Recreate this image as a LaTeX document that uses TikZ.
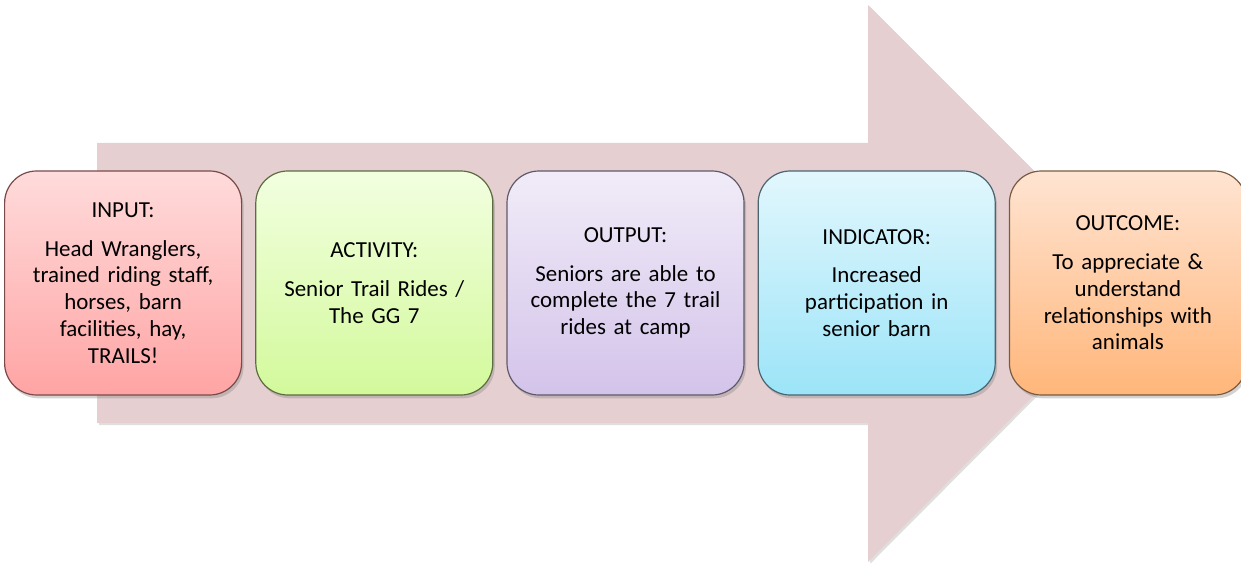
\documentclass[tikz,border=0pt]{standalone}
\usepackage{fontspec}
\setmainfont{Carlito}
\usepackage{tikz}
\usetikzlibrary{positioning, shadows}

\definecolor{arrowpink}{HTML}{E6CFD0}
\definecolor{inputtop}{HTML}{FFDBDB}
\definecolor{inputbot}{HTML}{FFA4A4}
\definecolor{inputline}{HTML}{7A4A4A}
\definecolor{activitytop}{HTML}{F2FFE0}
\definecolor{activitybot}{HTML}{D3F99B}
\definecolor{activityline}{HTML}{5D6B40}
\definecolor{outputtop}{HTML}{F1ECF8}
\definecolor{outputbot}{HTML}{D3C3EA}
\definecolor{outputline}{HTML}{5F5A6B}
\definecolor{indicatortop}{HTML}{E2F7FD}
\definecolor{indicatorbot}{HTML}{9CE4F8}
\definecolor{indicatorline}{HTML}{4A6470}
\definecolor{outcometop}{HTML}{FFE4D2}
\definecolor{outcomebot}{HTML}{FFB67A}
\definecolor{outcomeline}{HTML}{7A5A40}

\tikzset{
  stagebox/.style={rectangle, rounded corners=24pt, line width=0.9pt,
    minimum width=177.75pt, minimum height=168pt, align=center,
    text width=170pt, inner sep=0pt,
    font=\fontsize{17.2}{20.1}\selectfont,
    drop shadow={opacity=0.35, shadow xshift=1.5pt, shadow yshift=-2.5pt}},
  stagecolor/.style={top color=#1top, bottom color=#1bot, draw=#1line}
}

\begin{document}
\begin{tikzpicture}[x=0.75pt, y=-0.75pt, node distance=9.75pt]

  \useasboundingbox (0,0) rectangle (1241,563);

  %--------------------------
  % Big arrow behind
  %--------------------------
  \fill[arrowpink, drop shadow={opacity=0.25, shadow xshift=1.5pt, shadow yshift=-1.5pt}]
    (97,143) -- (868,143) -- (868,5) -- (1146,283) -- (868,562)
    -- (868,423) -- (97,423) -- cycle;

  %--------------------------
  % Stages
  %--------------------------
  \node[stagebox, stagecolor=input, anchor=west] (input) at (4,283)
    {INPUT:\\[9pt] Head Wranglers,\\ trained riding staff,\\ horses, barn\\ facilities, hay,\\ TRAILS!};
  \node[stagebox, stagecolor=activity, right=of input] (activity)
    {ACTIVITY:\\[9pt] Senior Trail Rides /\\ The GG 7};
  \node[stagebox, stagecolor=output, right=of activity] (output)
    {OUTPUT:\\[9pt] Seniors are able to\\ complete the 7 trail\\ rides at camp};
  \node[stagebox, stagecolor=indicator, right=of output] (indicator)
    {INDICATOR:\\[9pt] Increased\\ participation in\\ senior barn};
  \node[stagebox, stagecolor=outcome, right=of indicator] (outcome)
    {OUTCOME:\\[9pt] To appreciate \&\\ understand\\ relationships with\\ animals};

\end{tikzpicture}
\end{document}
